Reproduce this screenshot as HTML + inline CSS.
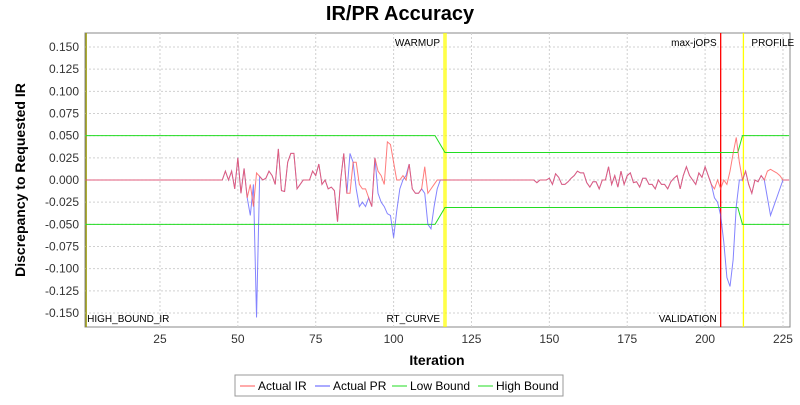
<!DOCTYPE html>
<html><head><meta charset="utf-8"><style>
body{margin:0;background:#fff;font-family:"Liberation Sans",sans-serif}
svg text{font-family:"Liberation Sans",sans-serif}
</style></head><body>
<svg id="chart" width="800" height="400" xmlns="http://www.w3.org/2000/svg">
<rect width="800" height="400" fill="#fff"/>
<text x="400" y="20" text-anchor="middle" font-size="20" font-weight="bold">IR/PR Accuracy</text>
<rect x="85" y="33" width="705" height="294" fill="#fff" stroke="#888"/>
<g id="grid"></g><g id="axes"></g><g id="marks"></g><g id="series"></g>
<text transform="translate(25,180) rotate(-90)" text-anchor="middle" font-size="14" font-weight="bold">Discrepancy to Requested IR</text>
<text x="437" y="365" text-anchor="middle" font-size="14" font-weight="bold">Iteration</text>
<g>
<rect x="235" y="375" width="328" height="21" fill="#fff" stroke="#999"/>
<g><line x1="240" y1="386" x2="255" y2="386" stroke="#ff5555"/><text x="258" y="390" font-size="12">Actual IR</text></g>
<g><line x1="315" y1="386" x2="330" y2="386" stroke="#5555ff"/><text x="333" y="390" font-size="12">Actual PR</text></g>
<g><line x1="392" y1="386" x2="407" y2="386" stroke="#22dd22"/><text x="410" y="390" font-size="12">Low Bound</text></g>
<g><line x1="478" y1="386" x2="493" y2="386" stroke="#22dd22"/><text x="496" y="390" font-size="12">High Bound</text></g>
</g>
</svg>
<script>
const xTicks=[25,50,75,100,125,150,175,200,225];
const yTicks=[-0.150,-0.125,-0.100,-0.075,-0.050,-0.025,0,0.025,0.050,0.075,0.100,0.125,0.150];
const irIter=[1,45,46,47,48,49,50,51,52,53,54,55,56,57,58,59,60,61,62,63,64,65,66,67,68,69,70,71,72,73,74,75,76,77,78,79,80,81,82,83,84,85,86,87,88,89,90,91,92,93,94,95,96,97,98,99,100,101,102,103,104,105,106,107,108,109,110,111,112,113,114,115,145,146,147,148,149,150,151,152,153,154,155,156,157,158,159,160,161,162,163,164,165,166,167,168,169,170,171,172,173,174,175,176,177,178,179,180,181,182,183,184,185,186,187,188,189,190,191,192,193,194,195,196,197,198,199,200,201,202,203,204,205,206,207,208,209,210,211,212,213,214,215,216,217,218,219,220,221,222,223,224,225,227];
const irVals=[0,0,0.01,0,0.01,-0.01,0.025,-0.015,0.013,-0.02,-0.005,-0.03,0.008,0.004,0,0.002,0.01,0.005,-0.005,0.035,-0.012,-0.013,0.02,0.03,0.03,-0.01,-0.005,0,0,0,0.01,0.005,0.018,-0.005,0,-0.01,-0.008,-0.012,-0.047,0,0.03,-0.015,-0.015,0.02,0.02,-0.005,-0.01,-0.01,-0.02,-0.03,0.025,0.01,0.005,-0.005,0.043,0.04,0.02,0,0,0.005,0,0.018,-0.01,-0.015,-0.015,-0.01,0.015,-0.015,-0.01,-0.005,0,0,0,-0.003,0,0,0,0.002,-0.005,0.007,0.003,-0.005,-0.005,-0.002,0.002,0.005,0.01,0.008,0.008,-0.003,-0.008,-0.002,-0.002,-0.01,0,0,0.015,-0.005,0.005,-0.008,0.01,-0.005,0.005,0.008,-0.003,-0.002,-0.008,0.002,0.002,-0.005,-0.005,-0.01,0,-0.005,-0.005,-0.01,-0.002,0.002,0.005,-0.01,0.005,0.015,0.005,0,-0.005,0.008,0.003,0.015,0.005,-0.005,-0.01,0,-0.01,0,-0.005,0.01,0.03,0.048,0.02,0,0.01,-0.005,-0.015,0,-0.002,0.005,0,0.01,0.012,0.01,0.008,0.005,0,0];
const prVals=[0,0,0.01,0,0.01,-0.01,0.025,-0.015,0.013,-0.02,-0.04,-0.005,-0.155,0.004,0,0.002,0.01,0.005,-0.005,0.035,-0.012,-0.013,0.02,0.03,0.03,-0.01,-0.005,0,0,0,0.01,0.005,0.018,-0.005,0,-0.01,-0.008,-0.012,-0.047,0,0.03,-0.015,0.03,0.02,-0.01,-0.03,-0.025,-0.03,-0.02,-0.03,0.025,-0.015,-0.025,-0.03,-0.038,-0.04,-0.065,-0.035,-0.01,0,0.005,0.018,-0.01,-0.015,-0.015,-0.01,-0.015,-0.05,-0.055,-0.03,-0.01,0,0,-0.003,0,0,0,0.002,-0.005,0.007,0.003,-0.005,-0.005,-0.002,0.002,0.005,0.01,0.008,0.008,-0.003,-0.008,-0.002,-0.002,-0.01,0,0,0.015,-0.005,0.005,-0.008,0.01,-0.005,0.005,0.008,-0.003,-0.002,-0.008,0.002,0.002,-0.005,-0.005,-0.01,0,-0.005,-0.005,-0.01,-0.002,0.002,0.005,-0.01,0.005,0.015,0.005,0,-0.005,0.008,0.003,0.015,0.005,-0.005,-0.02,-0.025,-0.04,-0.07,-0.11,-0.12,-0.09,-0.03,0,0,0.01,-0.005,-0.015,0,-0.002,0.005,0,-0.02,-0.04,-0.03,-0.02,-0.01,0,0];
const boundIter=[1,113.3,116.5,210.5,212,227];
const highVals=[0.05,0.05,0.031,0.031,0.05,0.05];
const lowVals=[-0.05,-0.05,-0.031,-0.031,-0.05,-0.05];
const markerIter=[1.3,116.2,116.8,205,212.3];
const markerColors=["#999900","#ffff00","#ffff00","#ff0000","#ffff00"];
const markerLabels=[["","HIGH_BOUND_IR"],["WARMUP","RT_CURVE"],["",""],["max-jOPS","VALIDATION"],["PROFILE",""]];
const X=i=>82.1+i*3.115, Y=v=>180-v*886.7;
const NS="http://www.w3.org/2000/svg";
function mk(p,t,a){const e=document.createElementNS(NS,t);for(const k in a)e.setAttribute(k,a[k]);document.getElementById(p).appendChild(e);return e;}
xTicks.forEach(t=>{
 const g=mk('grid','line',{x1:X(t),x2:X(t),y1:33,y2:327,stroke:'#d0d0d0','stroke-dasharray':'2,2'});
 
 
 const l=mk('axes','text',{x:X(t),y:343,'text-anchor':'middle','font-size':12,fill:'#333'});l.textContent=t;
 
 
});
yTicks.forEach(t=>{
 const g=mk('grid','line',{x1:85,x2:790,y1:Y(t),y2:Y(t),stroke:'#d0d0d0','stroke-dasharray':'2,2'});
 
 
 const l=mk('axes','text',{x:79,y:Y(t)+4,'text-anchor':'end','font-size':12,fill:'#333'});l.textContent=t.toFixed(3);
 
 
});
function poly(xs,vs,c,n){const e=mk('series','polyline',{points:xs.map((x,i)=>X(x)+','+Y(vs[i])).join(' '),fill:'none',stroke:c,'stroke-width':1});
 
 }
poly(boundIter,lowVals,'#22dd22','low-bound-line');
poly(boundIter,highVals,'#22dd22','high-bound-line');
poly(irIter,prVals,'rgba(80,80,255,0.7)','actual-pr-line');
poly(irIter,irVals,'rgba(255,80,80,0.75)','actual-ir-line');
markerIter.forEach((m,i)=>{
 const l=mk('marks','line',{x1:X(m),x2:X(m),y1:33,y2:327,stroke:markerColors[i],'stroke-width':1.3});
 
 
 const [top,bot]=markerLabels[i];
 const after=(i===0||i===4);
 if(top){const t=mk('marks','text',{x:after?X(m)+8:X(m)-4,y:46,'text-anchor':after?'start':'end','font-size':10});t.textContent=top;
  
  }
 if(bot){const t=mk('marks','text',{x:after?X(m)+1:X(m)-4,y:322,'text-anchor':after?'start':'end','font-size':10});t.textContent=bot;
  
  }
});
</script>
</body></html>
